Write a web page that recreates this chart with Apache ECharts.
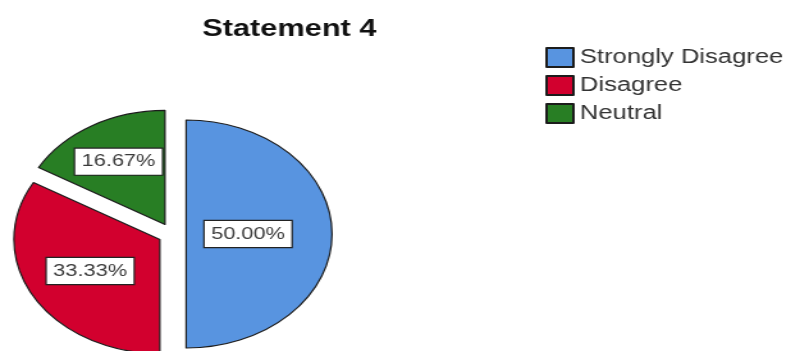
<!DOCTYPE html>
<html>
<head>
<meta charset="utf-8">
<script src="https://cdn.jsdelivr.net/npm/echarts@6/dist/echarts.min.js"></script>
<style>
  html, body { margin: 0; padding: 0; background: #fff; overflow: hidden; }
  /* source picture is stretched horizontally, so draw narrow and stretch */
  #main { width: 614px; height: 351px; transform: scaleX(1.28); transform-origin: 0 0; }
</style>
</head>
<body>
<div id="main"></div>
<script>
const categories = ["Strongly Disagree", "Disagree", "Neutral"];
const percents = [50.00, 33.33, 16.67];
const colors = ["#5894E0", "#D2002E", "#287E24"];

const center = [134.4, 234];
const radius = 114;
const offset = 11;

const total = percents.reduce((a, b) => a + b, 0);

// label goes to the centroid of its exploded slice
function labelPos(idx) {
  let before = 0;
  for (let i = 0; i < idx; i++) before += percents[i];
  const a0 = (before / total) * Math.PI * 2;
  const a1 = ((before + percents[idx]) / total) * Math.PI * 2;
  const mid = (a0 + a1) / 2;
  const half = (a1 - a0) / 2;
  const dist = offset + (2 / 3) * radius * Math.sin(half) / half;
  return [center[0] + dist * Math.sin(mid), center[1] - dist * Math.cos(mid)];
}

var chartDom = document.getElementById("main");
var myChart = echarts.init(chartDom);
var option;

option = {
  animation: false,
  title: {
    text: "Statement 4",
    left: 158,
    top: 17,
    padding: 0,
    textStyle: {
      fontFamily: "Liberation Sans, Arial, sans-serif",
      fontSize: 24,
      fontWeight: "bold",
      color: "#111",
    },
  },
  legend: {
    orient: "vertical",
    left: 426,
    top: 47,
    padding: 0,
    itemWidth: 21,
    itemHeight: 19,
    itemGap: 7,
    icon: "rect",
    selectedMode: false,
    textStyle: {
      fontFamily: "Liberation Sans, Arial, sans-serif",
      fontSize: 20,
      color: "#333",
    },
  },
  // percent boxes (pie labels can't be moved off the mid radius)
  graphic: percents.map((v, i) => {
    const pos = labelPos(i);
    return {
      type: "text",
      x: pos[0],
      y: pos[1],
      z: 100,
      style: {
        text: v.toFixed(2) + "%",
        align: "center",
        verticalAlign: "middle",
        fontFamily: "Liberation Sans, Arial, sans-serif",
        fontSize: 17,
        fill: "#3a3a3a",
        backgroundColor: "#fff",
        borderColor: "#222",
        borderWidth: 1.2,
        padding: [5, 5, 4, 5],
      },
    };
  }),
  series: [
    {
      type: "pie",
      center: center,
      radius: radius,
      startAngle: 90,
      clockwise: true,
      selectedMode: "multiple",
      selectedOffset: offset,
      avoidLabelOverlap: false,
      itemStyle: {
        borderColor: "#1c1c1c",
        borderWidth: 1.2,
      },
      label: { show: false },
      labelLine: { show: false },
      emphasis: { disabled: true },
      data: categories.map((name, i) => ({
        name: name,
        value: percents[i],
        selected: true,
        itemStyle: { color: colors[i] },
      })),
    },
  ],
};

option && myChart.setOption(option);
</script>
</body>
</html>
